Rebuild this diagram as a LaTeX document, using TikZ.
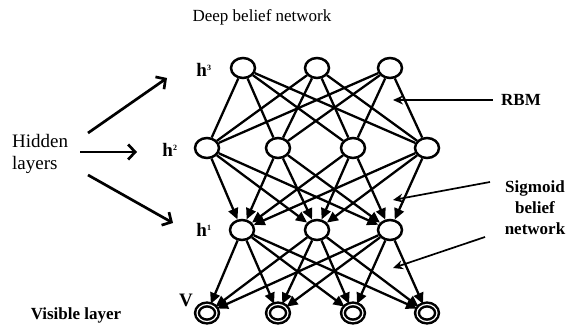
\documentclass[tikz,border=0pt]{standalone}
\usepackage{fontspec}
\setmainfont{Liberation Serif}
\usetikzlibrary{shapes.geometric,arrows.meta}
\begin{document}
\begin{tikzpicture}[x=1pt,y=-1pt,
  hnode/.style={ellipse,draw,line width=2.5pt,minimum width=24pt,minimum height=20pt,inner sep=0pt,fill=white},
  vnode/.style={ellipse,draw,line width=2.5pt,double,double distance=1.2pt,minimum width=20pt,minimum height=17pt,inner sep=0pt},
  link/.style={line width=2.3pt},
  dlink/.style={line width=2.3pt,-{Triangle[length=11pt,width=10pt]}},
  harrow/.style={line width=2.7pt,-{Straight Barb[length=7pt,width=15pt]}},
  parrow/.style={line width=1.7pt,-{Stealth[open,length=10pt,width=9pt]}},
  txt/.style={font=\fontsize{17}{21}\selectfont,inner sep=0pt},
  htxt/.style={font=\fontsize{19}{22}\selectfont,inner sep=0pt},
  btxt/.style={font=\fontsize{17}{21}\selectfont\bfseries,inner sep=0pt},
  hl/.style={font=\fontsize{19}{21}\selectfont\bfseries,inner sep=0pt}
]
\useasboundingbox (0,0) rectangle (573,328);
% nodes
\node[hnode] (t1) at (243,68) {};
\node[hnode] (t2) at (317,68) {};
\node[hnode] (t3) at (390,68) {};
\node[hnode] (m1) at (207,148) {};
\node[hnode] (m2) at (278,148) {};
\node[hnode] (m3) at (353,148) {};
\node[hnode] (m4) at (427,148) {};
\node[hnode] (b1) at (242,230) {};
\node[hnode] (b2) at (317,230) {};
\node[hnode] (b3) at (390,230) {};
\node[vnode] (v1) at (207,313) {};
\node[vnode] (v2) at (278,313) {};
\node[vnode] (v3) at (353,313) {};
\node[vnode] (v4) at (427,313) {};
% RBM links
\foreach \a in {t1,t2,t3}{\foreach \b in {m1,m2,m3,m4}{\draw[link] (\a) -- (\b);}}
% sigmoid links
\foreach \a in {m1,m2,m3,m4}{\foreach \b in {b1,b2,b3}{\draw[dlink] (\a) -- (\b);}}
\foreach \a in {b1,b2,b3}{\foreach \b in {v1,v2,v3,v4}{\draw[dlink] (\a) -- (\b);}}
% labels
\node[txt] (title) at (262,17) {Deep belief network};
\node[hl] (l3) at (204,70) {h\textsuperscript{\fontsize{8}{8}\selectfont 3}};
\node[hl] (l2) at (170,150) {h\textsuperscript{\fontsize{8}{8}\selectfont 2}};
\node[hl] (l1) at (204,230) {h\textsuperscript{\fontsize{8}{8}\selectfont 1}};
\node[hl] (lv) at (186,300) {V};
\node[htxt,align=left,anchor=west] (hid) at (12,154) {Hidden\\layers};
\node[btxt] (vis) at (76,315) {Visible layer};
\node[btxt] (rbm) at (521,100) {RBM};
\node[btxt,align=center] (sig) at (535,208) {Sigmoid\\belief\\network};
% hidden arrows
\coordinate (h1s) at (88,133); \coordinate (h1e) at (167,78);
\coordinate (h2s) at (80,152); \coordinate (h2e) at (137,152);
\coordinate (h3s) at (88,175); \coordinate (h3e) at (173,223);
\draw[harrow] (h1s) -- (h1e);
\draw[harrow] (h2s) -- (h2e);
\draw[harrow] (h3s) -- (h3e);
% pointer arrows
\coordinate (rbmtip) at (393,100);
\draw[parrow] (rbm.west) ++(-8,0) coordinate (rbms) -- (rbmtip);
\coordinate (s1s) at (490,182); \coordinate (s1e) at (393,200);
\coordinate (s2s) at (485,237); \coordinate (s2e) at (393,268);
\draw[parrow] (s1s) -- (s1e);
\draw[parrow] (s2s) -- (s2e);
\end{tikzpicture}
\end{document}
